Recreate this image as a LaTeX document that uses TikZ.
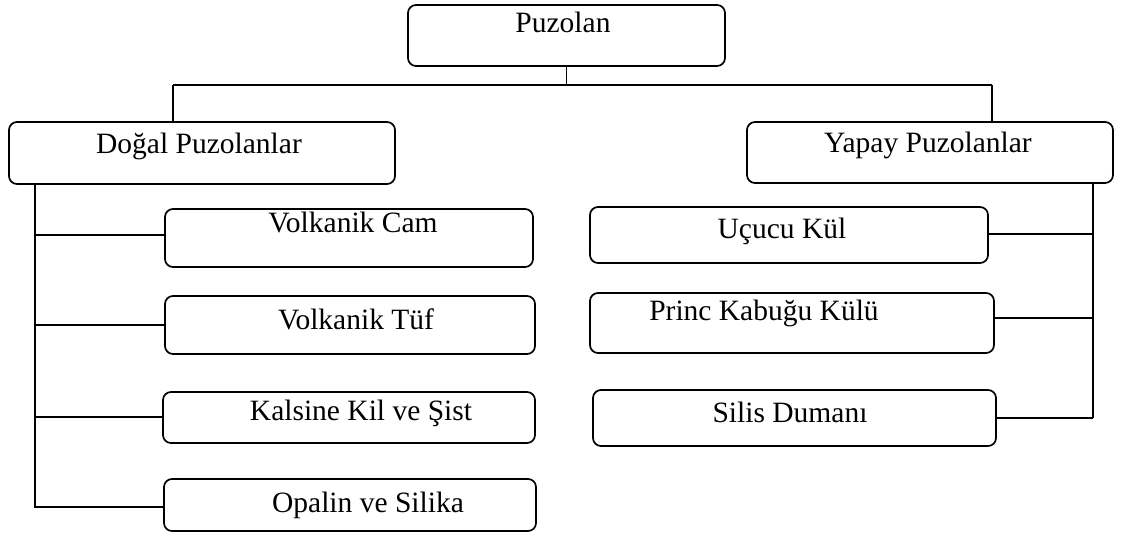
\documentclass[tikz,border=0pt]{standalone}
\usepackage{fontspec}
\setmainfont{Liberation Serif}
\begin{document}
\begin{tikzpicture}[x=1pt,y=-1pt,
  box/.style={draw=black,line width=1.7pt,rounded corners=8pt,inner sep=0pt},
  lbl/.style={anchor=base,inner sep=0pt,font=\fontsize{29.5}{34}\selectfont},
  conn/.style={draw=black,line width=1.6pt}]
\useasboundingbox (0,0) rectangle (1122,535);
% boxes
\node[box,minimum width=317pt,minimum height=61pt] (puz) at (566.5,35.5) {};
\node[box,minimum width=386pt,minimum height=62pt] (dogal) at (202,153) {};
\node[box,minimum width=366pt,minimum height=61pt] (yapay) at (930,152.5) {};
\node[box,minimum width=368pt,minimum height=58pt] (cam) at (349,238) {};
\node[box,minimum width=370pt,minimum height=58pt] (tuf) at (350,325) {};
\node[box,minimum width=372pt,minimum height=51pt] (kal) at (349,417.5) {};
\node[box,minimum width=372pt,minimum height=52pt] (opa) at (350,505) {};
\node[box,minimum width=398pt,minimum height=56pt] (ucu) at (789,235) {};
\node[box,minimum width=404pt,minimum height=60pt] (pri) at (792,323) {};
\node[box,minimum width=403pt,minimum height=56pt] (sil) at (794.5,418) {};
% labels
\node[lbl] (puzt) at (563,33) {Puzolan};
\node[lbl] (dogalt) at (199,153) {Doğal Puzolanlar};
\node[lbl] (yapayt) at (928,152) {Yapay Puzolanlar};
\node[lbl] (camt) at (353,232) {Volkanik Cam};
\node[lbl] (tuft) at (356,329) {Volkanik Tüf};
\node[lbl] (kalt) at (361,420) {Kalsine Kil ve Şist};
\node[lbl] (opat) at (368,512) {Opalin ve Silika};
\node[lbl] (ucut) at (782,238) {Uçucu Kül};
\node[lbl] (prit) at (764,320) {Princ Kabuğu Külü};
\node[lbl] (silt) at (790,422) {Silis Dumanı};
% top connectors
\coordinate (hub) at (566.5,85);
\coordinate (ltop) at (173,85);
\coordinate (rtop) at (992,85);
\draw[conn] (puz.south) -- (hub);
\draw[conn] (ltop) -- (rtop);
\draw[conn] (ltop) -- (ltop |- dogal.north);
\draw[conn] (rtop) -- (rtop |- yapay.north);
% left trunk
\coordinate (lb1) at (35,235);
\coordinate (lb2) at (35,325);
\coordinate (lb3) at (35,417);
\coordinate (lb4) at (35,507);
\draw[conn] (lb1 |- dogal.south) -- (lb4) -- (lb4 -| opa.west);
\draw[conn] (lb1) -- (lb1 -| cam.west);
\draw[conn] (lb2) -- (lb2 -| tuf.west);
\draw[conn] (lb3) -- (lb3 -| kal.west);
% right trunk
\coordinate (rb1) at (1093,234);
\coordinate (rb2) at (1093,318);
\coordinate (rb3) at (1093,418);
\draw[conn] (rb1 |- yapay.south) -- (rb3);
\draw[conn] (rb1) -- (rb1 -| ucu.east);
\draw[conn] (rb2) -- (rb2 -| pri.east);
\draw[conn] (rb3) -- (rb3 -| sil.east);
\end{tikzpicture}
\end{document}
